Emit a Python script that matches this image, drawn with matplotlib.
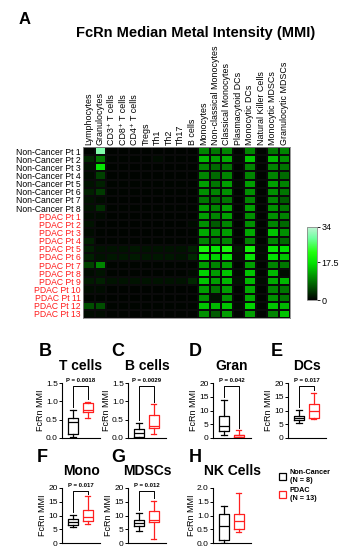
import numpy as np
import matplotlib
matplotlib.use("Agg")
import matplotlib.pyplot as plt
from matplotlib.colors import LinearSegmentedColormap
from matplotlib.patches import Patch

plt.rcParams['font.family'] = ['Liberation Sans', 'DejaVu Sans']

W, H = 349, 550

# ---- heatmap data ----
cell_types = ["Lymphocytes", "Granulocytes", "CD3\u207a T cells", "CD8\u207a T cells",
              "CD4\u207a T cells", "Tregs", "Th1", "Th2", "Th17", "B cells", "Monocytes",
              "Non-classical Monocytes", "Classical Monocytes", "Plasmacytoid DCs",
              "Monocytic DCs", "Natural Killer Cells", "Monocytic MDSCs", "Granulocytic MDSCs"]
nc_labels = ["Non-Cancer Pt %d" % i for i in range(1, 9)]
pdac_labels = ["PDAC Pt %d" % i for i in range(1, 14)]

# columns follow cell_types
nc_mmi = [
    [0.5, 30, 0.3, 0.3, 0.3, 0.3, 0.3, 0.3, 0.3, 0.3, 10, 9, 10, 0.5, 10, 0.3, 9, 10],
    [3.0, 9, 0.5, 0.5, 0.5, 0.5, 1.0, 0.5, 0.5, 0.5, 14, 12, 13, 0.8, 15, 0.3, 14, 11],
    [1.5, 18, 0.3, 0.3, 0.3, 0.3, 0.3, 0.3, 0.3, 0.3, 10, 8, 9, 0.3, 10, 0.3, 10, 9],
    [1.0, 5, 0.3, 0.3, 0.3, 0.3, 0.3, 0.3, 0.3, 0.3, 10, 8, 10, 0.3, 10, 0.3, 10, 8],
    [1.5, 2.5, 0.5, 0.5, 0.5, 0.5, 0.5, 0.5, 0.5, 0.5, 12, 9, 12, 1.0, 12, 0.5, 12, 10],
    [2.5, 4.5, 0.5, 0.5, 0.5, 0.5, 0.5, 0.5, 0.5, 0.5, 11, 10, 11, 0.5, 11, 0.3, 11, 9],
    [1.5, 1.0, 0.3, 0.3, 0.3, 0.3, 0.3, 0.3, 0.3, 0.3, 9, 8, 9, 0.3, 10, 0.3, 10, 7],
    [1.5, 3.5, 0.5, 0.5, 0.5, 0.5, 0.5, 0.5, 0.5, 0.5, 12, 10, 12, 0.5, 12, 0.3, 11, 9],
]
pdac_mmi = [
    [1.0, 0.8, 0.3, 0.3, 0.3, 0.3, 0.3, 0.3, 0.3, 0.3, 12, 10, 12, 0.5, 11, 0.3, 11, 10],
    [1.5, 0.5, 0.3, 0.3, 0.3, 0.3, 0.3, 0.3, 0.3, 0.8, 11, 7, 10, 0.5, 11, 0.3, 10, 8],
    [1.0, 0.5, 0.3, 0.3, 0.3, 0.3, 0.3, 0.3, 0.3, 0.5, 13, 11, 12, 0.5, 13, 0.3, 15, 11],
    [2.5, 0.5, 0.5, 0.5, 0.5, 0.5, 0.5, 0.5, 0.5, 0.5, 10, 9, 10, 0.5, 10, 0.3, 10, 8],
    [2.5, 1.5, 1.5, 1.5, 1.8, 1.5, 1.5, 1.5, 1.5, 2.5, 21, 18, 21, 2.0, 20, 1.0, 18, 17],
    [2.5, 1.5, 1.8, 1.8, 2.0, 1.8, 1.8, 1.8, 1.5, 3.0, 18, 16, 18, 1.5, 18, 0.8, 17, 15],
    [5.0, 10, 0.5, 0.5, 0.5, 0.5, 0.5, 0.5, 0.5, 0.5, 12, 10, 12, 0.5, 12, 0.3, 10, 9],
    [1.0, 1.5, 0.5, 0.5, 0.5, 0.5, 0.5, 0.5, 0.5, 0.8, 16, 12, 15, 0.8, 15, 0.5, 14, 1],
    [2.0, 2.5, 1.5, 1.5, 1.5, 1.5, 1.5, 1.5, 1.5, 3.0, 15, 12, 14, 1.5, 14, 0.8, 13, 14],
    [1.0, 1.0, 0.3, 0.3, 0.3, 0.3, 0.3, 0.3, 0.3, 0.3, 12, 9, 12, 0.5, 13, 0.3, 10, 9],
    [0.5, 0.5, 0.3, 0.3, 0.3, 0.3, 0.3, 0.3, 0.3, 0.3, 11, 1.5, 11, 0.5, 13, 0.3, 11, 9],
    [6.0, 6.0, 0.5, 0.5, 0.5, 0.5, 0.5, 0.5, 0.5, 0.5, 15, 14, 15, 0.8, 16, 0.5, 15, 14],
    [1.0, 1.0, 0.3, 0.3, 0.3, 0.3, 0.3, 0.3, 0.3, 0.3, 11, 7, 12, 0.5, 12, 0.3, 10, 15],
]

# ---- box plot data: [whislo, q1, median, q3, whishi] ----
tcell_nc = [0.03, 0.12, 0.43, 0.54, 0.76]
tcell_pdac = [0.54, 0.72, 0.76, 0.96, 0.99]
bcell_nc = [0.0, 0.03, 0.13, 0.25, 0.41]
bcell_pdac = [0.12, 0.28, 0.34, 0.63, 0.92]
gran_nc = [1.2, 2.5, 4.2, 8.1, 13.9]
gran_pdac = [0.3, 0.5, 1.0, 1.2, 2.8]
dc_nc = [5.3, 6.7, 7.4, 8.1, 10.3]
dc_pdac = [6.8, 7.4, 9.7, 12.2, 16.4]
mono_nc = [5.8, 6.5, 7.6, 8.7, 10.1]
mono_pdac = [7.0, 8.0, 9.6, 12.1, 17.0]
mdsc_nc = [4.5, 6.3, 7.3, 8.2, 10.9]
mdsc_pdac = [1.5, 7.5, 8.5, 11.5, 15.4]
nk_nc = [0.0, 0.1, 0.63, 1.05, 1.33]
nk_pdac = [0.4, 0.52, 0.79, 1.05, 1.82]

panel_letters = ["B", "C", "D", "E", "F", "G", "H"]
panel_titles = ["T cells", "B cells", "Gran", "DCs", "Mono", "MDSCs", "NK Cells"]
panel_nc = [tcell_nc, bcell_nc, gran_nc, dc_nc, mono_nc, mdsc_nc, nk_nc]
panel_pdac = [tcell_pdac, bcell_pdac, gran_pdac, dc_pdac, mono_pdac, mdsc_pdac, nk_pdac]
panel_pvals = ["P = 0.0018", "P = 0.0029", "P = 0.042", "P = 0.017", "P = 0.017", "P = 0.012", None]
panel_ymax = [1.5, 1.5, 20, 20, 20, 20, 2.0]
panel_ystep = [0.5, 0.5, 5, 5, 5, 5, 0.5]


def fx(px):
    return px / W


def fy(py):
    return 1 - py / H


fig = plt.figure(figsize=(W / 100, H / 100), dpi=100)

# ---- panel A heatmap ----
data = np.array(nc_mmi + pdac_mmi)
cmap = LinearSegmentedColormap.from_list(
    "fcrn", [(0, "#000000"), (0.5, "#00e000"), (0.66, "#22ff10"),
             (0.85, "#70ffa0"), (1.0, "#c0f4d4")])
ax = fig.add_axes([fx(83), fy(318), fx(290 - 83), (318 - 147) / H])
mesh = ax.pcolormesh(data, cmap=cmap, vmin=0, vmax=34, edgecolors="#0a0a0a", linewidth=0.3)
ax.set_xlim(0, data.shape[1])
ax.set_ylim(data.shape[0], 0)
ax.xaxis.tick_top()
ax.set_xticks(np.arange(data.shape[1]) + 0.5)
ax.set_xticklabels(cell_types, rotation=90, fontsize=6.4)
ax.set_yticks(np.arange(data.shape[0]) + 0.5)
ax.set_yticklabels(nc_labels + pdac_labels, fontsize=6.2)
for lab in ax.get_yticklabels()[len(nc_labels):]:
    lab.set_color("#ff1a1a")
ax.tick_params(length=0, pad=1.5)
for s in ax.spines.values():
    s.set_edgecolor("#888888")
    s.set_linewidth(0.6)

cax = fig.add_axes([fx(307), fy(300), fx(10), 73 / H])
cb = fig.colorbar(mesh, cax=cax, ticks=[0, 17.5, 34])
cb.ax.set_yticklabels(["0", "17.5", "34"], fontsize=6.5)
cb.ax.tick_params(length=2, width=0.6, pad=1)
cb.outline.set_edgecolor("#888888")
cb.outline.set_linewidth(0.6)

fig.text(fx(25), fy(19), "A", fontsize=12, fontweight="bold", ha="center", va="center")
fig.text(fx(196), fy(33), "FcRn Median Metal Intensity (MMI)", fontsize=10.5,
         fontweight="bold", ha="center", va="center")

# ---- panels B-H box plots ----
axes_left = [62, 128, 213, 288, 62, 128, 213]
axes_top = [383, 383, 383, 383, 488, 488, 488]
letter_x = [45, 118, 195, 277, 42, 118, 195]
ax_w, ax_h = 38, 55

for i in range(7):
    bx = fig.add_axes([fx(axes_left[i]), fy(axes_top[i] + ax_h), fx(ax_w), ax_h / H])
    for pos, vals, col in [(1, panel_nc[i], "black"), (2, panel_pdac[i], "#ff2020")]:
        st = dict(whislo=vals[0], q1=vals[1], med=vals[2], q3=vals[3], whishi=vals[4], fliers=[])
        bx.bxp([st], positions=[pos], widths=0.68, capwidths=0.34, showfliers=False,
               boxprops=dict(color=col, linewidth=0.9),
               whiskerprops=dict(color=col, linewidth=0.9),
               capprops=dict(color=col, linewidth=0.9),
               medianprops=dict(color=col, linewidth=0.9))
    ymax = panel_ymax[i]
    bx.set_xlim(0.26, 2.82)
    bx.set_ylim(0, ymax)
    ticks = np.arange(0, ymax + 1e-9, panel_ystep[i])
    bx.set_yticks(ticks)
    if panel_ystep[i] < 1:
        bx.set_yticklabels(["%.1f" % t for t in ticks])
    else:
        bx.set_yticklabels(["%d" % t for t in ticks])
    bx.set_xticks([])
    bx.tick_params(axis="y", labelsize=6, length=2, width=0.7, pad=1)
    bx.set_ylabel("FcRn MMI", fontsize=6.5, labelpad=1)
    for s in ["top", "right"]:
        bx.spines[s].set_visible(False)
    bx.spines["left"].set_linewidth(0.8)
    bx.spines["bottom"].set_linewidth(0.8)

    if panel_pvals[i]:
        top = ymax * 0.94
        left_end = panel_nc[i][4] + ymax * 0.05
        right_end = panel_pdac[i][4] + ymax * 0.05
        bx.plot([1, 1, 2, 2], [left_end, top, top, right_end], color="black",
                linewidth=0.7, clip_on=False)
        bx.text(1.5, top + ymax * 0.06, panel_pvals[i], fontsize=4.3, fontweight="bold",
                ha="center", va="bottom", clip_on=False)

    cx = axes_left[i] + ax_w / 2
    fig.text(fx(cx), fy(axes_top[i] - 17), panel_titles[i], fontsize=10,
             fontweight="bold", ha="center", va="center")
    fig.text(fx(letter_x[i]), fy(axes_top[i] - 31), panel_letters[i], fontsize=13,
             fontweight="bold", ha="center", va="center")

handles = [Patch(facecolor="white", edgecolor="black", linewidth=0.9),
           Patch(facecolor="white", edgecolor="#ff2020", linewidth=0.9)]
fig.legend(handles, ["Non-Cancer\n(N = 8)", "PDAC\n(N = 13)"], loc="upper left",
           bbox_to_anchor=(fx(276), fy(466)), frameon=False,
           prop=dict(size=5.2, weight="bold"), handlelength=1.0, handleheight=1.0,
           handletextpad=0.5, labelspacing=0.4, borderaxespad=0)

fig.savefig("out.png", dpi=100)
